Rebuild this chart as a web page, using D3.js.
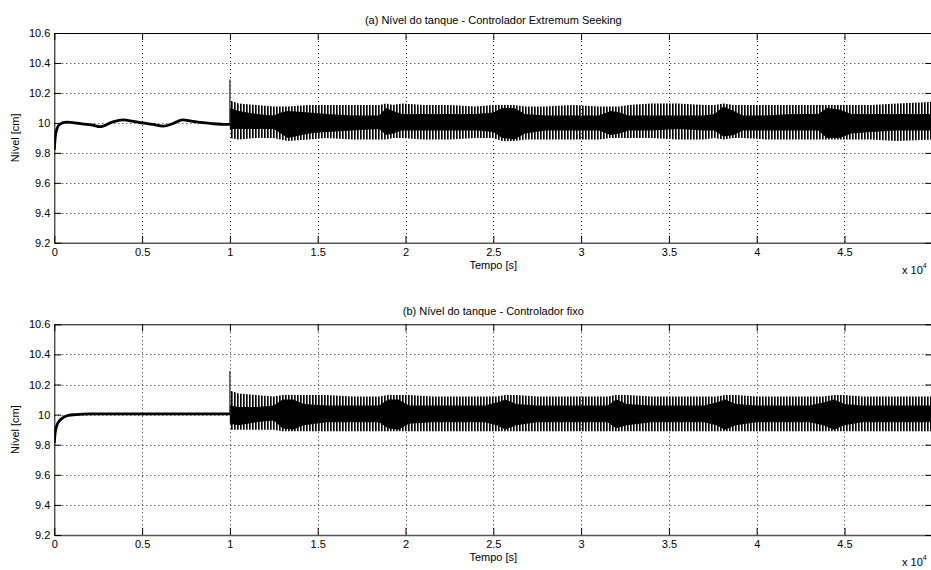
<!DOCTYPE html>
<html>
<head>
<meta charset="utf-8">
<script src="https://cdn.jsdelivr.net/npm/d3@7"></script>
<style>
  html, body { margin: 0; padding: 0; background: #fff; }
  svg { display: block; }
  text { font-family: "Liberation Sans", Arial, sans-serif; fill: #000; }
</style>
</head>
<body>
<svg id="chart" width="931" height="570"></svg>
<script>
// ---- axis ticks (time in units of 10^4 s, level in cm) ----
const xTicks = [0, 0.5, 1, 1.5, 2, 2.5, 3, 3.5, 4, 4.5];
const yTicks = [9.2, 9.4, 9.6, 9.8, 10, 10.2, 10.4, 10.6];
const xTickLabels = ["0", "0.5", "1", "1.5", "2", "2.5", "3", "3.5", "4", "4.5"];
const yTickLabels = ["9.2", "9.4", "9.6", "9.8", "10", "10.2", "10.4", "10.6"];

// ---- (a) Extremum Seeking: start-up (t < 1) ----
const esStartT = [0, 0.005, 0.015, 0.03, 0.07, 0.15, 0.22, 0.26, 0.33, 0.39, 0.45, 0.50, 0.56, 0.62, 0.68, 0.73, 0.78, 0.83, 0.90, 0.98, 1.0];
const esStartV = [9.82, 9.9, 9.96, 9.99, 10.005, 9.995, 9.985, 9.975, 10.005, 10.02, 10.01, 10.0, 9.99, 9.978, 9.998, 10.02, 10.012, 10.003, 9.995, 9.99, 9.99];

// ---- (a) oscillating regime (t >= 1): outer swing and dense core ----
const esT  = [1.00,1.05,1.15,1.25,1.29,1.33,1.45,1.55,1.70,1.85,1.89,1.93,1.98,2.10,2.25,2.40,2.50,2.55,2.62,2.68,2.80,2.95,3.10,3.17,3.22,3.27,3.40,3.55,3.70,3.76,3.81,3.87,3.92,4.05,4.20,4.35,4.40,4.47,4.54,4.65,4.80,5.00];
const esOuterHi = [10.15,10.13,10.12,10.11,10.11,10.11,10.12,10.12,10.12,10.12,10.13,10.12,10.13,10.12,10.12,10.11,10.12,10.12,10.12,10.11,10.11,10.12,10.11,10.11,10.11,10.12,10.13,10.13,10.12,10.12,10.13,10.12,10.12,10.12,10.12,10.12,10.12,10.12,10.12,10.12,10.13,10.14];
const esOuterLo = [9.90,9.89,9.90,9.90,9.89,9.88,9.89,9.90,9.89,9.89,9.89,9.90,9.90,9.89,9.89,9.90,9.90,9.88,9.88,9.89,9.89,9.89,9.89,9.90,9.90,9.90,9.90,9.89,9.89,9.90,9.89,9.90,9.90,9.89,9.89,9.89,9.89,9.89,9.89,9.89,9.88,9.89];
const esCoreHi = [10.10,10.08,10.06,10.05,10.07,10.08,10.07,10.06,10.05,10.05,10.10,10.08,10.06,10.06,10.06,10.06,10.07,10.10,10.10,10.06,10.05,10.05,10.05,10.08,10.07,10.05,10.05,10.05,10.05,10.06,10.11,10.08,10.05,10.05,10.06,10.06,10.10,10.09,10.06,10.06,10.06,10.06];
const esCoreLo = [9.96,9.96,9.96,9.96,9.93,9.90,9.93,9.94,9.95,9.96,9.92,9.93,9.95,9.95,9.95,9.95,9.94,9.90,9.89,9.93,9.95,9.95,9.95,9.92,9.93,9.95,9.95,9.96,9.95,9.95,9.91,9.92,9.95,9.95,9.95,9.95,9.90,9.90,9.93,9.94,9.95,9.95];
const esSpike = [9.99, 10.29];

// ---- (b) fixed controller: start-up (t < 1) ----
const fxStartT = [0, 0.005, 0.015, 0.03, 0.05, 0.08, 0.12, 0.2, 0.5, 1.0];
const fxStartV = [9.81, 9.88, 9.93, 9.96, 9.98, 9.995, 10.0, 10.005, 10.005, 10.005];

// ---- (b) oscillating regime (t >= 1) ----
const fxT  = [1.00,1.05,1.15,1.25,1.30,1.36,1.42,1.55,1.70,1.85,1.90,1.96,2.02,2.15,2.30,2.45,2.52,2.57,2.63,2.75,2.90,3.05,3.15,3.20,3.26,3.40,3.55,3.70,3.77,3.82,3.88,4.00,4.15,4.30,4.38,4.44,4.50,4.60,4.75,5.00];
const fxOuterHi = [10.16,10.14,10.13,10.12,10.13,10.13,10.13,10.13,10.12,10.12,10.13,10.13,10.13,10.12,10.12,10.12,10.12,10.13,10.13,10.12,10.12,10.12,10.12,10.13,10.13,10.12,10.12,10.12,10.12,10.13,10.13,10.12,10.12,10.12,10.12,10.13,10.13,10.12,10.12,10.12];
const fxOuterLo = [9.90,9.90,9.90,9.90,9.89,9.89,9.89,9.89,9.89,9.89,9.89,9.89,9.89,9.89,9.89,9.89,9.89,9.89,9.89,9.89,9.89,9.89,9.89,9.89,9.89,9.89,9.89,9.89,9.89,9.89,9.89,9.89,9.89,9.89,9.89,9.89,9.89,9.89,9.89,9.89];
const fxCoreHi = [10.06,10.05,10.05,10.06,10.10,10.10,10.07,10.06,10.06,10.06,10.10,10.10,10.06,10.06,10.06,10.06,10.08,10.10,10.07,10.06,10.06,10.06,10.06,10.10,10.07,10.06,10.06,10.06,10.08,10.10,10.07,10.06,10.06,10.06,10.08,10.10,10.07,10.06,10.06,10.06];
const fxCoreLo = [9.94,9.93,9.95,9.96,9.91,9.90,9.93,9.95,9.95,9.95,9.91,9.90,9.94,9.95,9.95,9.95,9.93,9.90,9.93,9.95,9.95,9.95,9.95,9.91,9.93,9.95,9.95,9.95,9.93,9.90,9.93,9.95,9.95,9.95,9.93,9.90,9.93,9.95,9.95,9.95];
const fxSpike = [10.0, 10.29];

const panels = [
  { title: "(a) Nível do tanque - Controlador Extremum Seeking", top: 33.0, bottom: 242.8,
    startT: esStartT, startV: esStartV, t: esT, oHi: esOuterHi, oLo: esOuterLo, cHi: esCoreHi, cLo: esCoreLo, spike: esSpike },
  { title: "(b) Nível do tanque - Controlador fixo", top: 324.3, bottom: 535.0,
    startT: fxStartT, startV: fxStartV, t: fxT, oHi: fxOuterHi, oLo: fxOuterLo, cHi: fxCoreHi, cLo: fxCoreLo, spike: fxSpike }
];

const left = 54.3, right = 932.3;
const svg = d3.select("#chart");

// fine vertical hatching standing in for the fast oscillation swings
const defs = svg.append("defs");
const pat = defs.append("pattern").attr("id", "swing")
  .attr("patternUnits", "userSpaceOnUse").attr("width", 3).attr("height", 10);
pat.append("rect").attr("x", 0).attr("y", 0).attr("width", 1).attr("height", 10).attr("fill", "#000");
pat.append("rect").attr("x", 1).attr("y", 0).attr("width", 1).attr("height", 10).attr("fill", "#555");

panels.forEach((p, i) => {
  const x = d3.scaleLinear().domain([0, 5]).range([left, right]);
  const y = d3.scaleLinear().domain([9.2, 10.6]).range([p.bottom, p.top]);
  const g = svg.append("g");

  // dotted grid
  const grid = g.append("g").attr("stroke", "#222").attr("stroke-width", 1).attr("stroke-dasharray", "1,3");
  xTicks.filter(v => v > 0).forEach(v => {
    grid.append("line").attr("x1", Math.round(x(v)) + 0.5).attr("x2", Math.round(x(v)) + 0.5)
      .attr("y1", p.top).attr("y2", p.bottom);
  });
  yTicks.filter(v => v > 9.2 && v < 10.6).forEach(v => {
    grid.append("line").attr("x1", left).attr("x2", right)
      .attr("y1", Math.round(y(v)) + 0.5).attr("y2", Math.round(y(v)) + 0.5);
  });

  const clipId = "clip" + i;
  defs.append("clipPath").attr("id", clipId).append("rect")
    .attr("x", left).attr("y", p.top).attr("width", right - left).attr("height", p.bottom - p.top);
  const plot = g.append("g").attr("clip-path", `url(#${clipId})`);

  const idx = d3.range(p.t.length);
  // outer swing band
  plot.append("path").datum(idx)
    .attr("d", d3.area().x(k => x(p.t[k])).y0(k => y(p.oLo[k])).y1(k => y(p.oHi[k])))
    .attr("fill", "url(#swing)");
  // dense core band
  plot.append("path").datum(idx)
    .attr("d", d3.area().x(k => x(p.t[k])).y0(k => y(p.cLo[k])).y1(k => y(p.cHi[k])))
    .attr("fill", "#000");
  // step-change spike
  plot.append("line").attr("x1", x(1)).attr("x2", x(1))
    .attr("y1", y(p.spike[0])).attr("y2", y(p.spike[1]))
    .attr("stroke", "#333").attr("stroke-width", 1.3);
  // start-up response
  plot.append("path").datum(d3.range(p.startT.length))
    .attr("d", d3.line().x(k => x(p.startT[k])).y(k => y(p.startV[k])).curve(d3.curveMonotoneX))
    .attr("fill", "none").attr("stroke", "#000").attr("stroke-width", 2.8);

  // axes with inward ticks
  const fmtX = v => xTickLabels[xTicks.indexOf(v)];
  const fmtY = v => yTickLabels[yTicks.findIndex(t => Math.abs(t - v) < 1e-9)];
  const axB = g.append("g").attr("transform", `translate(0,${p.bottom})`)
    .call(d3.axisBottom(x).tickValues(xTicks).tickFormat(fmtX).tickSizeInner(-7).tickSizeOuter(0).tickPadding(5));
  const axT = g.append("g").attr("transform", `translate(0,${p.top})`)
    .call(d3.axisTop(x).tickValues(xTicks).tickFormat("").tickSizeInner(-7).tickSizeOuter(0));
  const axL = g.append("g").attr("transform", `translate(${left},0)`)
    .call(d3.axisLeft(y).tickValues(yTicks).tickFormat(fmtY).tickSizeInner(-7).tickSizeOuter(0).tickPadding(4));
  const axR = g.append("g").attr("transform", `translate(${right},0)`)
    .call(d3.axisRight(y).tickValues(yTicks).tickFormat("").tickSizeInner(-7).tickSizeOuter(0));
  [axB, axT, axL, axR].forEach(a => {
    a.attr("font-size", 11).attr("font-family", null);
    a.selectAll("path").attr("stroke", "#000");
    a.selectAll("line").attr("stroke", "#000");
  });
  axB.selectAll("path").attr("stroke", "#555").attr("stroke-width", 1.4);

  // titles and labels
  const cx = (left + right) / 2;
  g.append("text").attr("x", cx).attr("y", p.top - 9).attr("text-anchor", "middle")
    .attr("font-size", 11).text(p.title);
  g.append("text").attr("x", cx).attr("y", p.bottom + 26).attr("text-anchor", "middle")
    .attr("font-size", 11).text("Tempo [s]");
  g.append("text").attr("transform", `translate(19,${(p.top + p.bottom) / 2}) rotate(-90)`)
    .attr("text-anchor", "middle").attr("font-size", 11).text("Nível [cm]");
  const mult = g.append("text").attr("x", 902).attr("y", p.bottom + 31).attr("font-size", 11);
  mult.append("tspan").text("x 10");
  mult.append("tspan").attr("font-size", 7).attr("dy", -6).text("4");
});
</script>
</body>
</html>
